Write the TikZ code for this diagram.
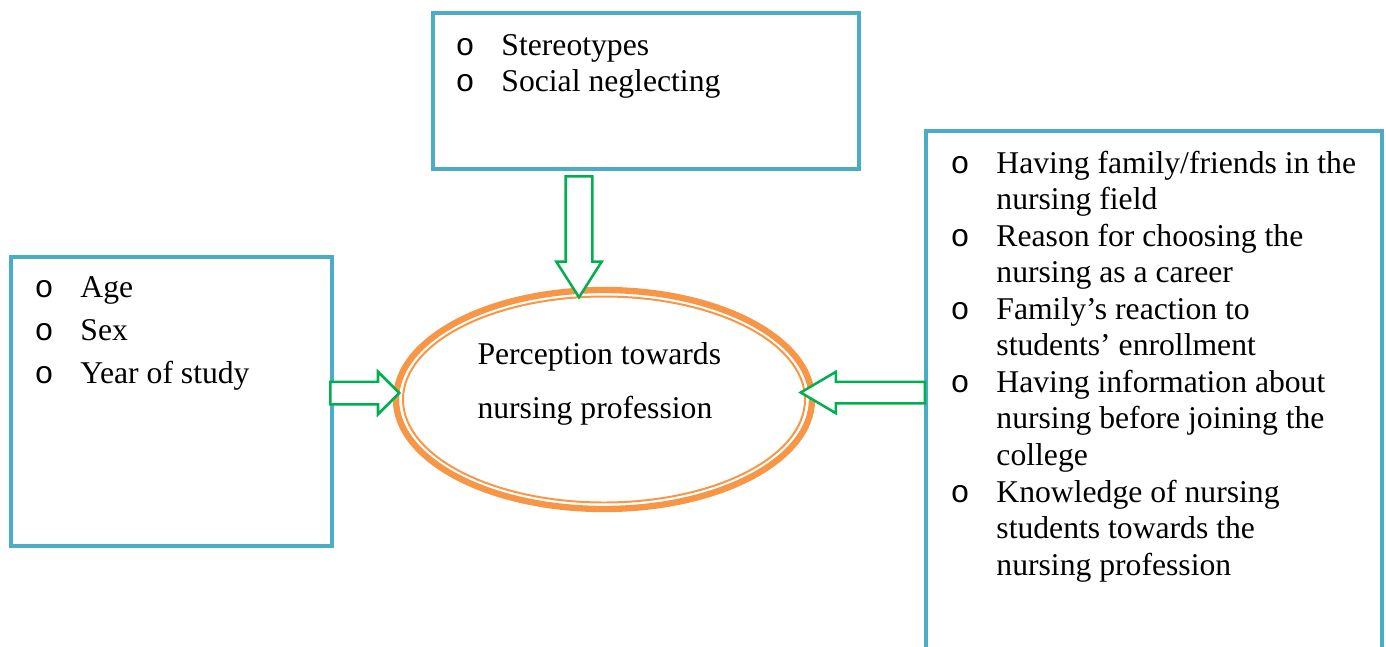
\documentclass[tikz,border=0pt]{standalone}
\usepackage{fontspec}
\setmainfont{Liberation Serif}
\newfontfamily\bulletfont{Liberation Mono}
\usetikzlibrary{shapes.arrows,shapes.geometric}
\definecolor{boxblue}{HTML}{4BACC6}
\definecolor{arrgreen}{HTML}{00B050}
\definecolor{ovalorange}{HTML}{F79646}
\newcommand\blt{{\bulletfont o}}
\newcommand\listtab[1]{\begin{tabular}[t]{@{}p{17.4pt}@{}l@{}}#1\end{tabular}}
\begin{document}
\begin{tikzpicture}[x=0.379pt,y=-0.379pt,
  framebox/.style={draw=boxblue,line width=1.3pt,rectangle,inner sep=0pt},
  listtext/.style={anchor=base west,inner sep=0pt,align=left},
  blockarrow/.style={single arrow,draw=arrgreen,fill=white,line width=0.95pt,
    inner sep=0pt,text depth=0pt,single arrow head indent=0pt,anchor=tail},
]
\useasboundingbox (0,0) rectangle (1386,646);
\clip (0,0) rectangle (1386,646);

% boxes
\node[framebox,minimum width=426*0.379pt,minimum height=156*0.379pt] (top) at (646,91) {};
\node[framebox,minimum width=321*0.379pt,minimum height=289*0.379pt] (left) at (171.5,401.5) {};
\node[framebox,minimum width=456*0.379pt,minimum height=538*0.379pt] (right) at (1154,400) {};

% central ellipse
\node[ellipse,draw=ovalorange,line width=2.4pt,inner sep=0pt,
  minimum width=416*0.379pt,minimum height=219*0.379pt] (perc) at (604,399.5) {};
\draw[ovalorange,line width=0.75pt] (perc.center) ellipse [x radius=201, y radius=103];

% texts
\node[listtext,font=\fontsize{12}{14}\selectfont] (toptext) at (455,55)
  {\listtab{\blt & Stereotypes\\ \blt & Social neglecting}};
\node[listtext,font=\fontsize{12}{16.3}\selectfont] (lefttext) at (34,297)
  {\listtab{\blt & Age\\ \blt & Sex\\ \blt & Year of study}};
\node[listtext,font=\fontsize{12}{13.86}\selectfont] (righttext) at (950,173)
  {\listtab{\blt & Having family/friends in the\\
   & nursing field\\
   \blt & Reason for choosing the\\
   & nursing as a career\\
   \blt & Family’s reaction to\\
   & students’ enrollment\\
   \blt & Having information about\\
   & nursing before joining the\\
   & college\\
   \blt & Knowledge of nursing\\
   & students towards the\\
   & nursing profession}};
\node[listtext,font=\fontsize{12}{20.47}\selectfont] (perctext) at (477,364)
  {\begin{tabular}[t]{@{}l@{}}Perception towards\\ nursing profession\end{tabular}};

% block arrows
\node[blockarrow,text width=0pt,text height=20*0.379pt,single arrow head extend=10*0.379pt,
  single arrow tip angle=90,minimum height=69*0.379pt,shape border rotate=0]
  (a1) at (329,393) {};
\node[blockarrow,text width=0pt,text height=19*0.379pt,single arrow head extend=10*0.379pt,
  single arrow tip angle=61,minimum height=124*0.379pt,shape border rotate=180]
  (a2) at (926,392.5) {};
\node[blockarrow,text width=24*0.379pt,text height=0pt,single arrow head extend=9.5*0.379pt,
  single arrow tip angle=65,minimum height=121*0.379pt,shape border rotate=270]
  (a3) at (579,175) {};
\end{tikzpicture}
\end{document}
